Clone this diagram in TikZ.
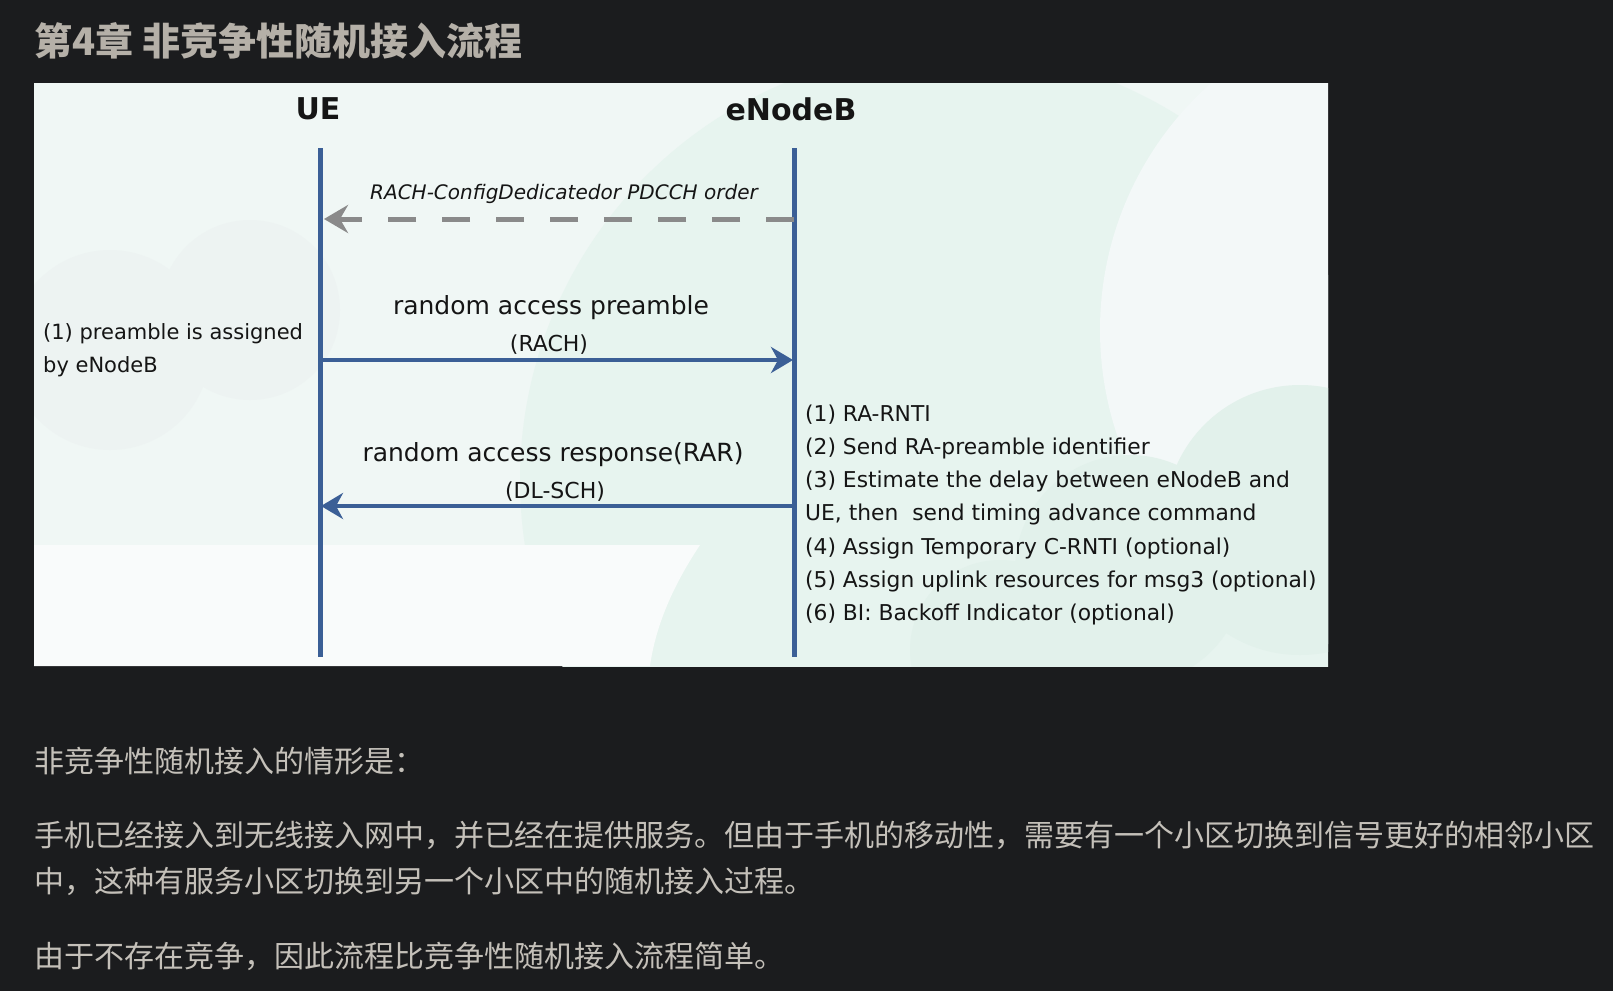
\documentclass[tikz,border=0pt]{standalone}
\usepackage{fontspec}
\setmainfont{DejaVu Sans}
\newfontfamily\cjk{Noto Sans CJK SC}
\usetikzlibrary{arrows.meta}
\definecolor{bgdark}{HTML}{1B1C1E}
\definecolor{titlec}{HTML}{B5B0A8}
\definecolor{bodyc}{HTML}{C4C0B9}
\definecolor{panelc}{HTML}{F0F7F5}
\definecolor{mintc}{HTML}{E7F4EF}
\definecolor{mintd}{HTML}{E2F1EB}
\definecolor{lightc}{HTML}{F3F8F8}
\definecolor{whitec}{HTML}{F9FBFB}
\definecolor{greyc}{HTML}{EDF3F2}
\definecolor{lifeblue}{HTML}{3B5F96}
\definecolor{dashgray}{HTML}{8A8A8A}
\definecolor{inkc}{HTML}{151515}
\tikzset{
  lifeline/.style={draw=lifeblue, line width=5pt},
  msg/.style={draw=lifeblue, line width=4pt, -{Stealth[length=22pt,width=26pt,inset=7pt]}, shorten >=-1pt},
  dmsg/.style={draw=dashgray, line width=5pt, dash pattern=on 28pt off 26pt, -{Stealth[length=24pt,width=28pt,inset=8pt]}},
  actor/.style={font=\bfseries\fontsize{30}{34}\selectfont, text=inkc, inner sep=0pt},
  lbl/.style={font=\fontsize{25}{28}\selectfont, text=inkc, inner sep=0pt},
  sublbl/.style={font=\fontsize{22}{26}\selectfont, text=inkc, inner sep=0pt},
  itlbl/.style={font=\itshape\fontsize{20}{24}\selectfont, text=inkc, inner sep=0pt},
  note/.style={font=\fontsize{21.8}{26}\selectfont, text=inkc, inner sep=0pt, anchor=west, text height=0.75em, text depth=0.25em},
  body/.style={font=\cjk\fontsize{30}{34}\selectfont, text=bodyc, inner sep=0pt, anchor=west}
}
\begin{document}
\begin{tikzpicture}[x=1pt,y=-1pt]
\fill[bgdark] (0,0) rectangle (1613,991);
\useasboundingbox (0,0) rectangle (1613,991);
% title
\node[font=\cjk\bfseries\fontsize{38}{40}\selectfont, text=titlec, inner sep=0pt, anchor=west] (title) at (34,41) {第4章 非竞争性随机接入流程};
% panel with faint clouds
\fill[panelc] (34,83) rectangle (1328,666);
\begin{scope}
  \clip (34,83) rectangle (1328,666);
  \fill[greyc] (110,350) circle (100);
  \fill[greyc] (250,310) circle (90);
  \fill[mintc] (950,480) circle (430);
  \fill[lightc] (1430,330) circle (330);
  \fill[mintd] (1130,570) circle (115);
  \fill[mintd] (1300,520) circle (135);
  \fill[mintd] (1000,650) circle (90);
  \fill[whitec] (34,545) -- (700,545) .. controls (670,590) and (655,630) .. (650,666) -- (34,666) -- cycle;
\end{scope}
% actors
\node[actor] (ue) at (318,109) {UE};
\node[actor] (enb) at (791,109) {eNodeB};
\coordinate (uetop) at (320,148);
\coordinate (uebot) at (320,657);
\coordinate (enbtop) at (794,148);
\coordinate (enbbot) at (794,657);
\draw[lifeline] (uetop) -- (uebot);
\draw[lifeline] (enbtop) -- (enbbot);
% message 0 (dashed)
\coordinate (m0a) at (794,219);
\coordinate (m0b) at (324,219);
\draw[dmsg] (m0a) -- (m0b);
\node[itlbl] (m0t) at (564,194) {RACH-ConfigDedicatedor PDCCH order};
% message 1
\coordinate (m1a) at (320,360);
\coordinate (m1b) at (792,360);
\draw[msg] (m1a) -- (m1b);
\node[lbl] (m1t) at (551,308) {random access preamble};
\node[sublbl] (m1s) at (549,345) {(RACH)};
% message 2
\coordinate (m2a) at (794,506);
\coordinate (m2b) at (322,506);
\draw[msg] (m2a) -- (m2b);
\node[lbl] (m2t) at (553,455) {random access response(RAR)};
\node[sublbl] (m2s) at (555,492) {(DL-SCH)};
% left note
\node[font=\fontsize{21}{33}\selectfont, text=inkc, inner sep=0pt, anchor=north west, align=left] (lnote) at (43,323) {(1) preamble is assigned\\by eNodeB};
% right notes
\node[note] (n1) at (805,419) {(1) RA-RNTI};
\node[note] (n2) at (805,452) {(2) Send RA-preamble identifier};
\node[note] (n3) at (805,485) {(3) Estimate the delay between eNodeB and};
\node[note] (n3b) at (805,518) {UE, then\ \ send timing advance command};
\node[note] (n4) at (805,552) {(4) Assign Temporary C-RNTI (optional)};
\node[note] (n5) at (805,585) {(5) Assign uplink resources for msg3 (optional)};
\node[note] (n6) at (805,618) {(6) BI: Backoff Indicator (optional)};
% body text
\node[body] (b1) at (34,761) {非竞争性随机接入的情形是：};
\node[body] (b2) at (34,835) {手机已经接入到无线接入网中，并已经在提供服务。但由于手机的移动性，需要有一个小区切换到信号更好的相邻小区};
\node[body] (b3) at (34,881) {中，这种有服务小区切换到另一个小区中的随机接入过程。};
\node[body] (b4) at (34,956) {由于不存在竞争，因此流程比竞争性随机接入流程简单。};
\end{tikzpicture}
\end{document}
